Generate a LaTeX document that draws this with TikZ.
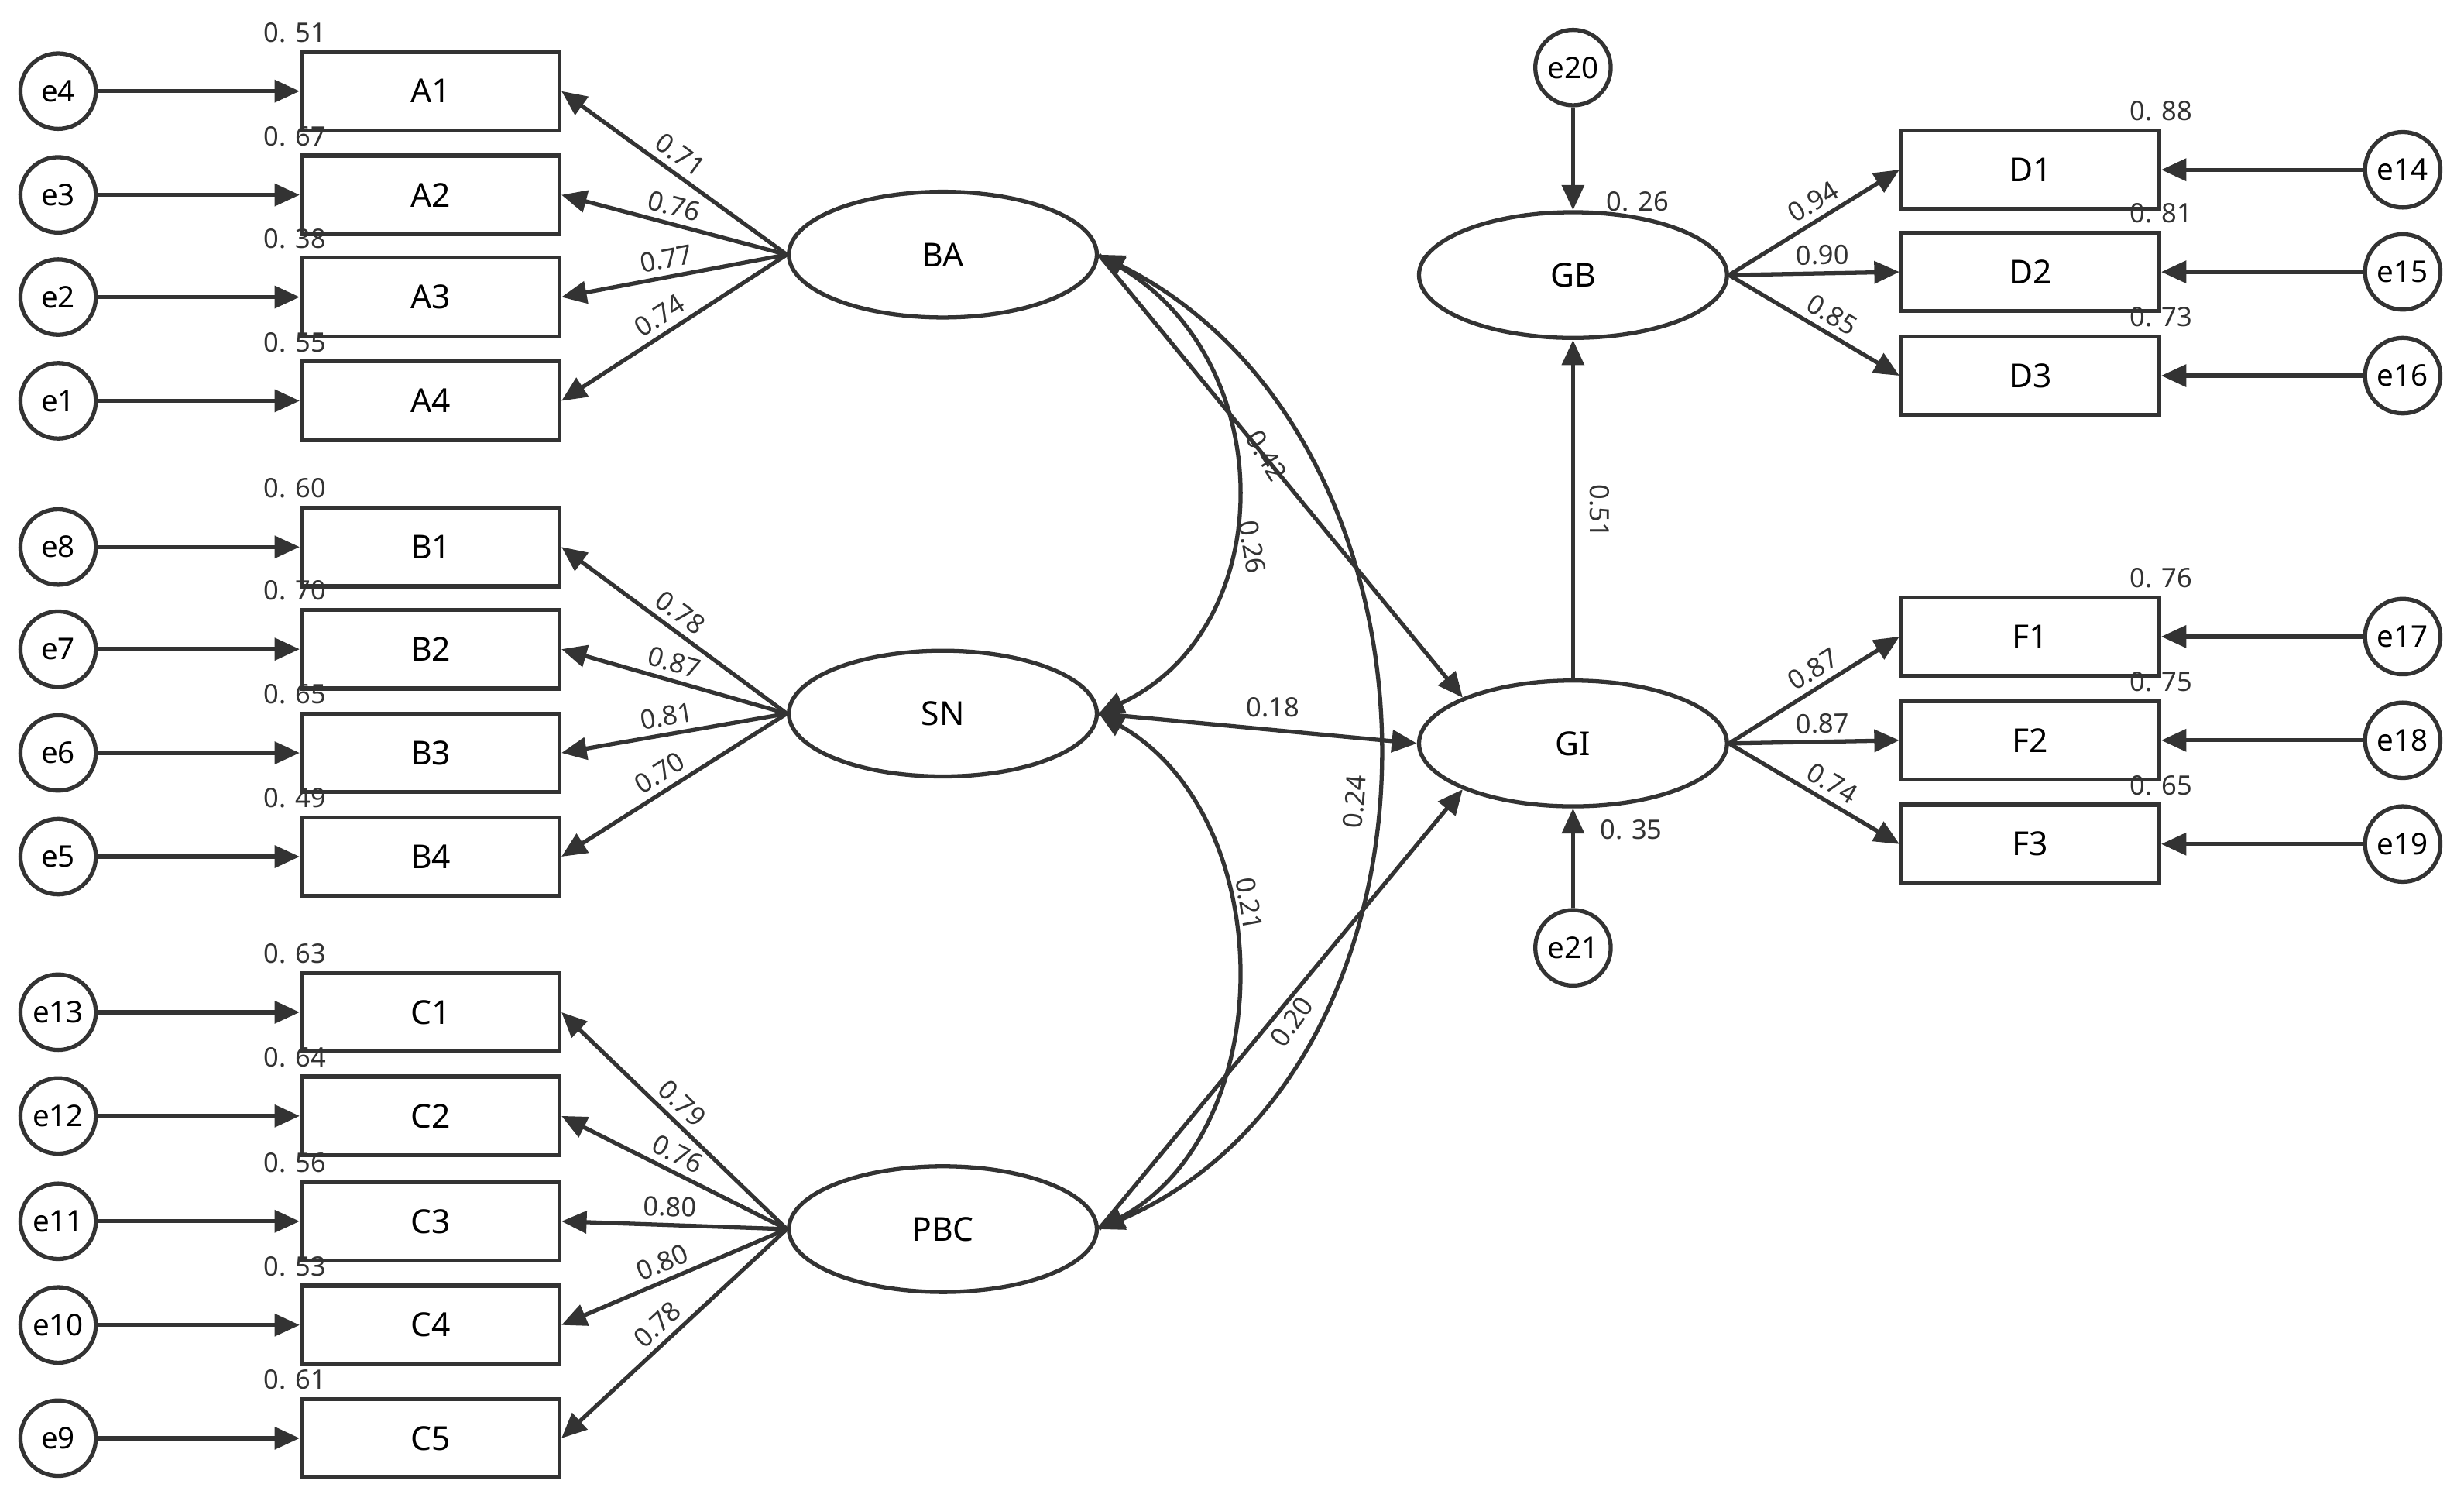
\documentclass[tikz,border=0pt]{standalone}
\usepackage{fontspec}
\setmainfont{Noto Sans}
\usetikzlibrary{arrows.meta,shapes.geometric}
\begin{document}
\begin{tikzpicture}[x=1pt,y=-1pt,
  lw/.style={line width=2.6pt,draw=black!80},
  box/.style={lw,draw,minimum width=164pt,minimum height=50pt,inner sep=0pt,font=\fontsize{21}{24}\selectfont},
  err/.style={lw,draw,circle,minimum size=48pt,inner sep=0pt,font=\fontsize{19}{22}\selectfont},
  lat/.style={lw,draw,ellipse,minimum width=196pt,minimum height=80pt,inner sep=0pt,font=\fontsize{21}{24}\selectfont},
  arr/.style={lw,-{Triangle[length=16pt,width=14pt]},shorten >=0pt},
  dbl/.style={lw,{Triangle[length=16pt,width=14pt]}-{Triangle[length=16pt,width=14pt]}},
  lab/.style={font=\fontsize{17}{19}\selectfont,text=black!80,inner sep=4pt}]
\useasboundingbox (0,0) rectangle (1568,959);
\fill[white] (0,0) rectangle (1568,959);
% latent
\node[lat] (BA) at (600,162) {BA};
\node[lat] (SN) at (600,454) {SN};
\node[lat] (PBC) at (600,782) {PBC};
\node[lat] (GB) at (1001,175) {GB};
\node[lat] (GI) at (1001,473) {GI};
% left indicators
\foreach \n/\y/\e/\r/\l/\lat in {A1/58/e4/0. 51/0.71/BA, A2/124/e3/0. 67/0.76/BA, A3/189/e2/0. 38/0.77/BA, A4/255/e1/0. 55/0.74/BA,
  B1/348/e8/0. 60/0.78/SN, B2/413/e7/0. 70/0.87/SN, B3/479/e6/0. 65/0.81/SN, B4/545/e5/0. 49/0.70/SN,
  C1/644/e13/0. 63/0.79/PBC, C2/710/e12/0. 64/0.76/PBC, C3/777/e11/0. 56/0.80/PBC, C4/843/e10/0. 53/0.80/PBC, C5/915/e9/0. 61/0.78/PBC}{
  \node[box] (\n) at (274,\y) {\n};
  \node[err] (\e) at (37,\y) {\e};
  \draw[arr] (\e) -- (\n.west);
  \node[lab,anchor=west,inner sep=1pt] at ([xshift=-24pt,yshift=11pt]\n.north west) {\r};
  \draw[arr] (\lat.west) -- node[lab,sloped,above,pos=0.52] {\l} (\n.east);
}
% right indicators
\foreach \n/\y/\e/\r/\l/\lat in {D1/108/e14/0. 88/0.94/GB, D2/173/e15/0. 81/0.90/GB, D3/239/e16/0. 73/0.85/GB,
  F1/405/e17/0. 76/0.87/GI, F2/471/e18/0. 75/0.87/GI, F3/537/e19/0. 65/0.74/GI}{
  \node[box] (\n) at (1292,\y) {\n};
  \node[err] (\e) at (1529,\y) {\e};
  \draw[arr] (\e) -- (\n.east);
  \node[lab,inner sep=1pt] at ([yshift=11pt]\n.north east) {\r};
  \draw[arr] (\lat.east) -- node[lab,sloped,above,pos=0.55] {\l} (\n.west);
}
\node[err] (e20) at (1001,43) {e20};
\node[err] (e21) at (1001,603) {e21};
\draw[arr] (e20) -- (GB);
\draw[arr] (e21) -- (GI);
\node[lab] at (1042,128) {0. 26};
\node[lab] at (1038,528) {0. 35};
\draw[arr] (GI) -- (GB);
\node[lab,rotate=-90] at (1018,325) {0.51};
% structural
\draw[arr] (BA.east) -- (GI.north west);
\draw[arr] (SN.east) -- (GI.west);
\draw[arr] (PBC.east) -- (GI.south west);
\node[lab] at (810,450) {0.18};
\node[lab,rotate=-58] at (806,290) {0.42};
\node[lab,rotate=55] at (822,650) {0.20};
% covariances
\draw[dbl] (BA.east) .. controls (815,230) and (815,400) .. (SN.east);
\draw[dbl] (SN.east) .. controls (815,520) and (815,720) .. (PBC.east);
\draw[dbl] (BA.east) .. controls (935,280) and (935,680) .. (PBC.east);
\node[lab,rotate=-80] at (797,348) {0.26};
\node[lab,rotate=-80] at (795,575) {0.21};
\node[lab,rotate=85] at (862,510) {0.24};
\end{tikzpicture}
\end{document}
